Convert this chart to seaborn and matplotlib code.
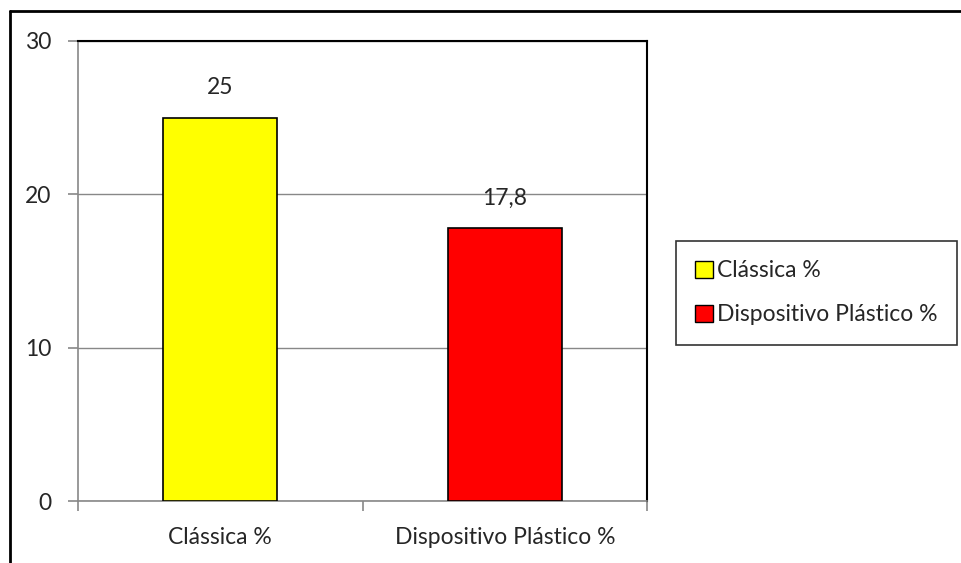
import pandas as pd
import matplotlib.pyplot as plt
import seaborn as sns
from matplotlib.patches import Patch

categories = ['Clássica %', 'Dispositivo Plástico %']
values = [25, 17.8]
colors = ['#FFFF00', '#FF0000']

data = pd.DataFrame({'cat': categories, 'val': values})

sns.set_style('white')
plt.rcParams['font.family'] = ['Lato', 'DejaVu Sans']
fs = 16.5

fig = plt.figure(figsize=(9.62, 5.63), dpi=100)
ax = fig.add_axes([0.0811, 0.1101, 0.5915, 0.8171])

sns.barplot(data=data, x='cat', y='val', hue='cat', palette=colors,
            saturation=1, width=0.4, edgecolor='black', linewidth=1.2,
            legend=False, ax=ax, zorder=3)

ax.set_ylim(0, 30)
ax.set_yticks([0, 10, 20, 30])
ax.set_xlim(-0.5, 1.5)
ax.set_xlabel('')
ax.set_ylabel('')
ax.yaxis.grid(True, color='#888888', linewidth=1)
ax.set_axisbelow(True)

for s in ['top', 'right']:
    ax.spines[s].set_color('black')
    ax.spines[s].set_linewidth(1.5)
for s in ['left', 'bottom']:
    ax.spines[s].set_color('#888888')
    ax.spines[s].set_linewidth(1.2)

ax.tick_params(axis='y', length=7, color='#888888', width=1.2,
               labelsize=fs, pad=12, left=True)
ax.tick_params(axis='x', length=0, labelsize=fs, pad=19)
# category boundary ticks
ax.set_xticks([-0.5, 0.5, 1.5], minor=True)
ax.tick_params(axis='x', which='minor', length=7, color='#888888',
               width=1.2, bottom=True)

for cont in ax.containers:
    ax.bar_label(cont, labels=[f'{v:g}'.replace('.', ',') for v in cont.datavalues],
                 padding=14, fontsize=fs)

handles = [Patch(facecolor=c, edgecolor='black', linewidth=1) for c in colors]
fig.legend(handles, categories, loc='upper left',
           bbox_to_anchor=(676 / 962, 1 - 241 / 563), fontsize=fs,
           frameon=True, fancybox=False, edgecolor='black',
           handlelength=0.75, handleheight=0.75, handletextpad=0.2,
           labelspacing=1.0, borderpad=0.85, borderaxespad=0)
fig.legends[0].get_frame().set_linewidth(1.2)

# outer chart border (left and top visible)
fig.add_artist(plt.Line2D([10 / 962, 10 / 962], [0, 1 - 11 / 563],
                          color='black', linewidth=2, transform=fig.transFigure))
fig.add_artist(plt.Line2D([10 / 962, 1], [1 - 11 / 563, 1 - 11 / 563],
                          color='black', linewidth=2, transform=fig.transFigure))

plt.savefig('out.png', dpi=100)
